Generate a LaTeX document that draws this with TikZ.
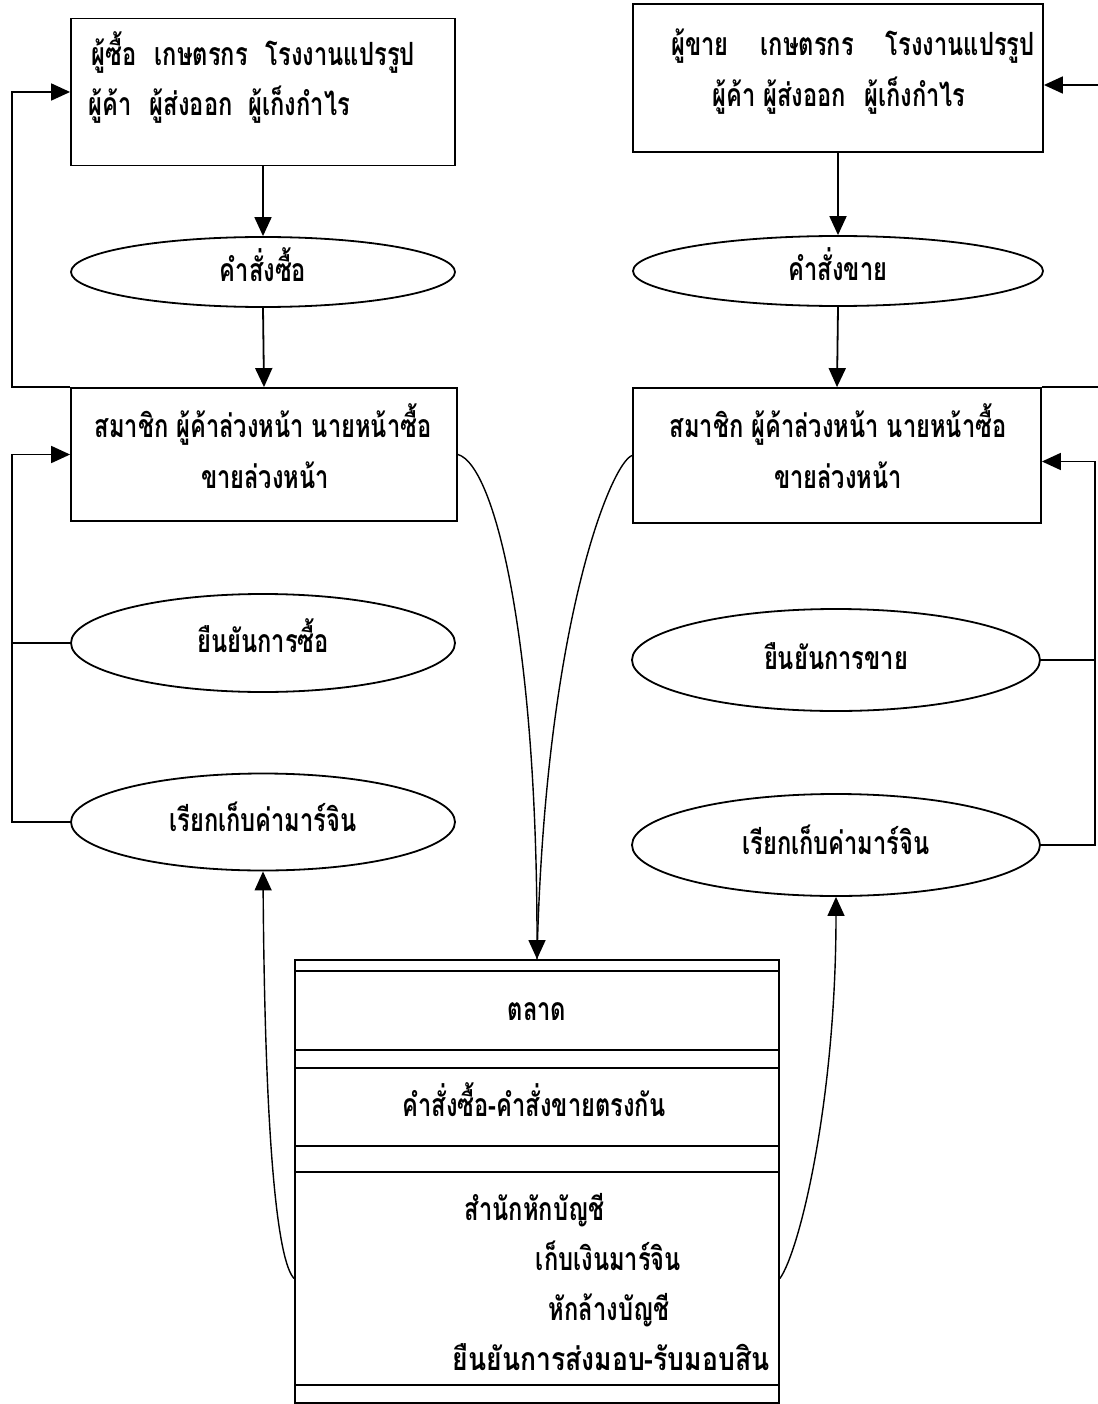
\documentclass[tikz,border=0pt]{standalone}
\usepackage{fontspec}
\usepackage{graphicx}
\newfontfamily\thaifont[Script=Thai,FakeStretch=0.74]{Loma}
\usetikzlibrary{arrows.meta,shapes.geometric}

\tikzset{
  box/.style={draw, rectangle, inner sep=0pt},
  oval/.style={draw, ellipse, inner sep=0pt, text height=19pt, text depth=0pt},
  txt/.style={inner sep=0pt, anchor=base},
  tip/.style={-{Triangle[length=19pt,width=17pt]}},
}
\newcommand{\gap}{\hspace{18pt}}

\begin{document}
\begin{tikzpicture}[x=1pt, y=-1pt, line width=1.8pt, font=\thaifont\bfseries\fontsize{32}{40}\selectfont]

  %% ════ ฝั่งซื้อ (ซ้าย) ════
  \node[box, minimum width=384pt, minimum height=147pt] (buyer) at (263,92) {};
  \node[txt, anchor=base west] (buyerA) at (91,66) {ผู้ซื้อ\gap เกษตรกร\gap โรงงานแปรรูป};
  \node[txt, anchor=base west] (buyerB) at (88,116) {ผู้ค้า\gap ผู้ส่งออก\hspace{8pt} ผู้เก็งกำไร};
  \node[oval, minimum width=384pt, minimum height=70pt] (buyOrder) at (263,272) {คำสั่งซื้อ};
  \node[box, minimum width=386pt, minimum height=133pt] (memberL) at (264,454.5) {};
  \node[txt] (memberLA) at (263,437) {สมาชิก ผู้ค้าล่วงหน้า นายหน้าซื้อ};
  \node[txt] (memberLB) at (265,488) {ขายล่วงหน้า};
  \node[oval, minimum width=384pt, minimum height=98pt] (confirmBuy) at (263,643) {ยืนยันการซื้อ};
  \node[oval, minimum width=384pt, minimum height=97pt] (marginL) at (263,822) {เรียกเก็บค่ามาร์จิน};

  %% ════ ฝั่งขาย (ขวา) ════
  \node[box, minimum width=410pt, minimum height=148pt] (seller) at (838,78) {};
  \node[txt] (sellerA) at (853,56) {ผู้ขาย\hspace{24pt} เกษตรกร\hspace{24pt} โรงงานแปรรูป};
  \node[txt] (sellerB) at (839,107) {ผู้ค้า ผู้ส่งออก\gap ผู้เก็งกำไร};
  \node[oval, minimum width=410pt, minimum height=70pt] (sellOrder) at (838,271) {คำสั่งขาย};
  \node[box, minimum width=408pt, minimum height=135pt] (memberR) at (837,455.5) {};
  \node[txt] (memberRA) at (838,437) {สมาชิก ผู้ค้าล่วงหน้า นายหน้าซื้อ};
  \node[txt] (memberRB) at (838,488) {ขายล่วงหน้า};
  \node[oval, minimum width=408pt, minimum height=102pt] (confirmSell) at (836,660) {ยืนยันการขาย};
  \node[oval, minimum width=408pt, minimum height=102pt] (marginR) at (836,845) {เรียกเก็บค่ามาร์จิน};

  %% ════ ตลาด / สำนักหักบัญชี (ล่าง) ════
  \node[box, minimum width=484pt, minimum height=443pt] (frame) at (537,1181.5) {};
  \node[box, minimum width=484pt, minimum height=79pt, text height=19pt, text depth=0pt] (market) at (537,1010.5) {ตลาด};
  \node[box, minimum width=484pt, minimum height=78pt, text height=19pt, text depth=0pt] (match) at (537,1107) {\hspace*{-6pt}คำสั่งซื้อ-คำสั่งขายตรงกัน};
  \node[box, minimum width=484pt, minimum height=213pt] (clear) at (537,1278.5) {};
  \node[txt, anchor=base west] (clearA) at (464,1220) {สำนักหักบัญชี};
  \node[txt, anchor=base west] (clearB) at (535,1270) {เก็บเงินมาร์จิน};
  \node[txt, anchor=base west] (clearC) at (548,1320) {หักล้างบัญชี};
  \node[txt, anchor=base west] (clearD) at (452,1370) {\scalebox{1.12}[1]{ยืนยันการส่งมอบ-รับมอบสิน}};

  %% ════ เส้นเชื่อม ════
  \coordinate (railL) at (12,0);
  \coordinate (railR) at (1095,0);
  \coordinate (railTop) at (1106,0);   % อยู่นอกขอบภาพ
  \coordinate (sellerIn) at ([yshift=-7pt]seller.east);
  \coordinate (memberRIn) at ([yshift=-6pt]memberR.east);
  \draw[tip] (buyer.south) -- (buyOrder.north);
  \draw[tip] (buyOrder.south) -- (memberL.north);
  \draw[tip] (memberL.north west) -| (railL |- buyer.west) -- (buyer.west);
  \draw[tip] (marginL.west) -| (railL |- memberL.west) -- (memberL.west);
  \draw (confirmBuy.west) -- (railL |- confirmBuy.west);

  \draw[tip] (seller.south) -- (sellOrder.north);
  \draw[tip] (sellOrder.south) -- (memberR.north);
  \draw[tip] (memberR.north east) -| (railTop |- sellerIn) -- (sellerIn);
  \draw[tip] (marginR.east) -| (railR |- memberRIn) -- (memberRIn);
  \draw (confirmSell.east) -- (railR |- confirmSell.east);

  % เส้นโค้งเข้า-ออกตลาด
  \draw[line width=1.4pt, tip] (memberL.east) .. controls (495,465) and (537,640) .. (frame.north);
  \draw[line width=1.4pt] (memberR.west) .. controls (612,462) and (545,620) .. (frame.north);
  \draw[line width=1.4pt, tip] (clear.west) .. controls (278,1262) and (265,1150) .. (marginL.south);
  \draw[line width=1.4pt, tip] (clear.east) .. controls (800,1250) and (836,1100) .. (marginR.south);

  % กรอบภาพ
  \pgfresetboundingbox
  \path[use as bounding box] (0,0) rectangle (1097,1404);
\end{tikzpicture}
\end{document}
